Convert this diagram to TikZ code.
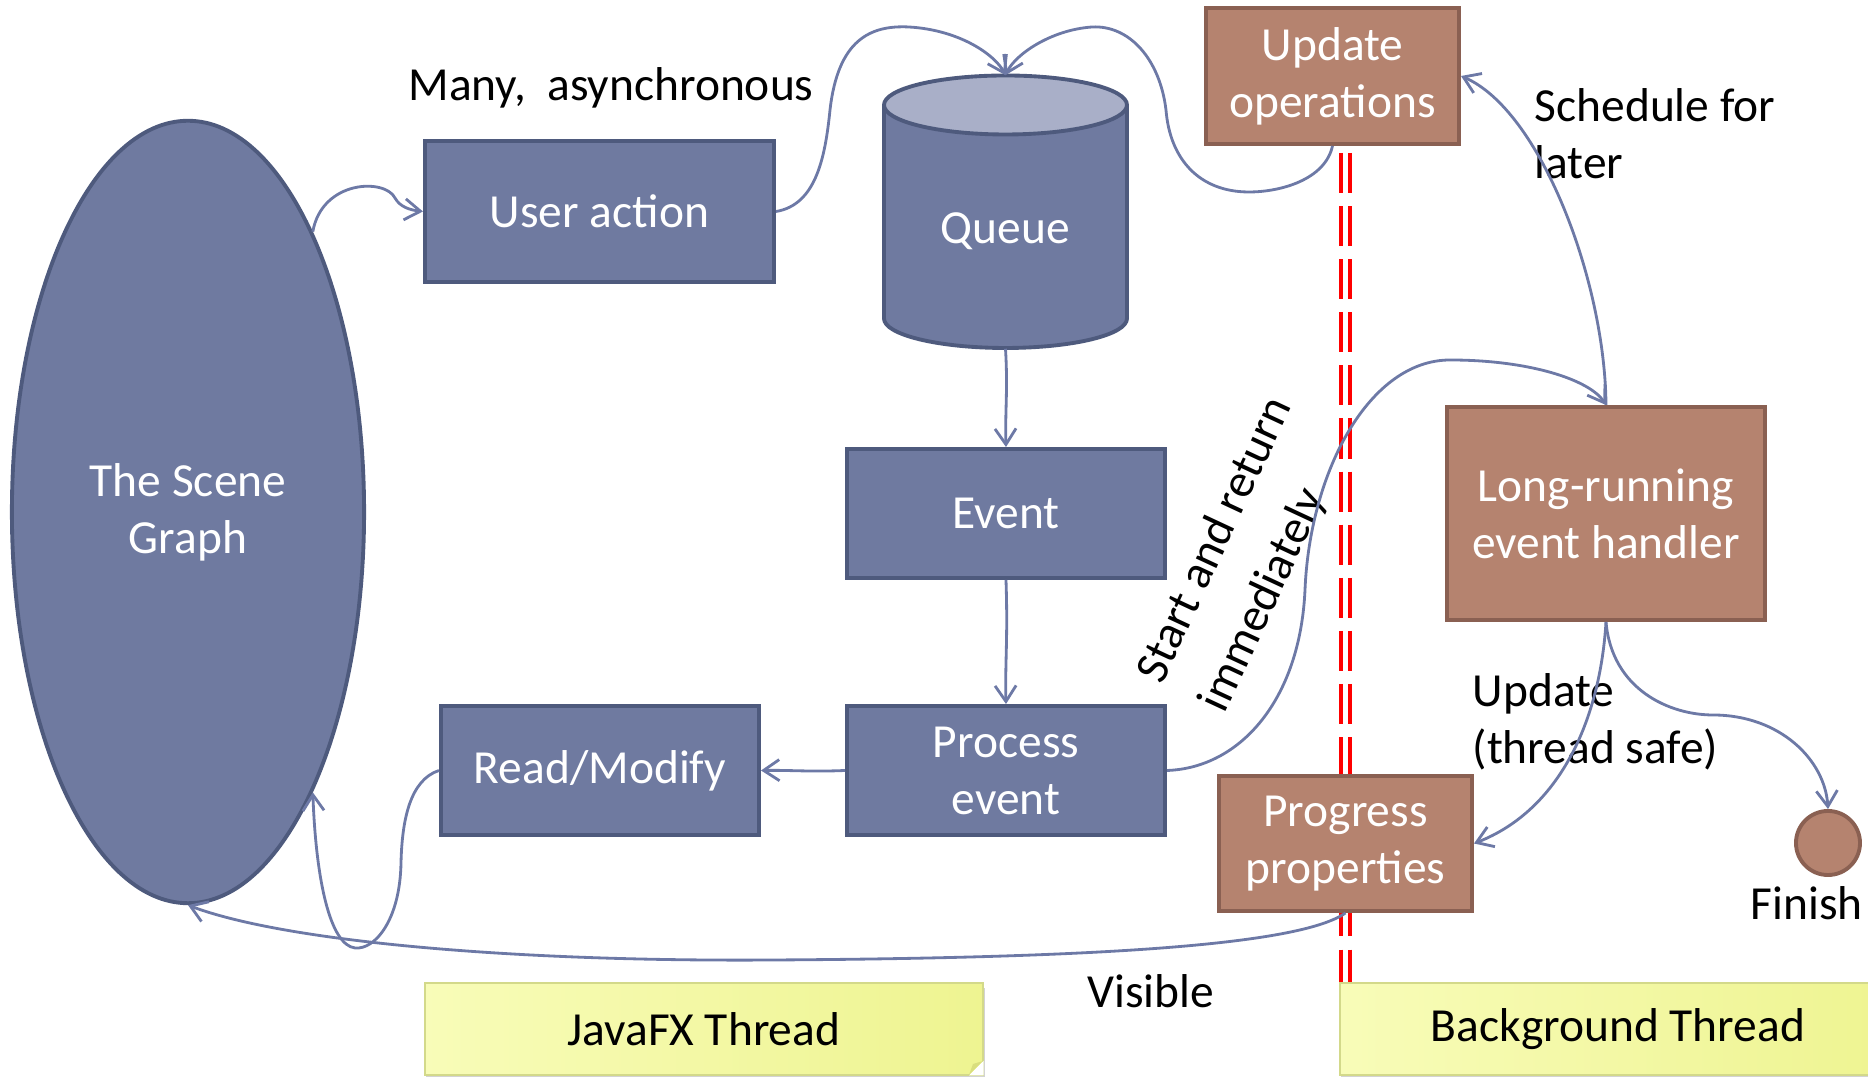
\documentclass[tikz,border=0pt]{standalone}
\usepackage{fontspec}
\setmainfont{Carlito}
\usetikzlibrary{arrows.meta,shapes.geometric,shadows}

\definecolor{boxblue}{HTML}{6F7AA0}
\definecolor{boxblueline}{HTML}{4E5A7D}
\definecolor{cyltop}{HTML}{A9AFC8}
\definecolor{boxbrown}{HTML}{B5836F}
\definecolor{boxbrownline}{HTML}{8A6052}
\definecolor{connc}{HTML}{6D79A6}
\definecolor{noteA}{HTML}{F8FCB8}
\definecolor{noteB}{HTML}{EEF491}
\definecolor{noteline}{HTML}{D3D98A}
\definecolor{notefold}{HTML}{D9DE7E}

\begin{document}
\begin{tikzpicture}[x=0.01cm, y=-0.01cm,
  txt/.style={font=\fontsize{13.5}{16.2}\selectfont, align=center},
  bluebox/.style={txt, rectangle, fill=boxblue, draw=boxblueline, line width=1.1pt, text=white, inner sep=0pt},
  brownbox/.style={txt, rectangle, fill=boxbrown, draw=boxbrownline, line width=1.1pt, text=white, inner sep=0pt},
  lbl/.style={txt, text=black, inner sep=0pt},
  conn/.style={draw=connc, line width=0.8pt, -{Straight Barb[length=4.5pt,width=6pt]}},
  redline/.style={draw=red, line width=1.1pt, dash pattern=on 11.4pt off 3.7pt},
  note/.style={txt, rectangle, left color=noteA, right color=noteB, draw=noteline, line width=0.6pt, inner sep=0pt,
    drop shadow={shadow xshift=0.4pt, shadow yshift=-1.4pt, opacity=0.35}}
]
\useasboundingbox (0,0) rectangle (1868,1077);

% thread boundary
\draw[redline] (1341,153) -- (1341,983);
\draw[redline] (1350,153) -- (1350,983);

% the scene graph
\node[bluebox, ellipse, minimum width=3.52cm, minimum height=7.82cm] (sg) at (188,512) {The Scene\\Graph};

% event queue drawn as a cylinder
\fill[boxblue] (884,105) -- (884,318.5)
  .. controls (884,334.8) and (938.4,348) .. (1005.5,348)
  .. controls (1072.6,348) and (1127,334.8) .. (1127,318.5) -- (1127,105) -- cycle;
\draw[boxblueline, line width=1.1pt] (884,105) -- (884,318.5)
  .. controls (884,334.8) and (938.4,348) .. (1005.5,348)
  .. controls (1072.6,348) and (1127,334.8) .. (1127,318.5) -- (1127,105);
\draw[boxblueline, line width=1.1pt, fill=cyltop] (1005.5,105) ellipse [x radius=121.5, y radius=29.5];
\node[inner sep=0pt, minimum width=2.43cm, minimum height=2.72cm] (queue) at (1005.5,212) {};
\node[txt, text=white] (qlabel) at (1005.5,231) {Queue};

% JavaFX thread boxes
\node[bluebox, minimum width=3.49cm, minimum height=1.41cm] (ua) at (599.5,211.5) {User action};
\node[bluebox, minimum width=3.18cm, minimum height=1.29cm] (ev) at (1006,513.5) {Event};
\node[bluebox, minimum width=3.18cm, minimum height=1.29cm] (pe) at (1006,770.5) {Process\\event};
\node[bluebox, minimum width=3.18cm, minimum height=1.29cm] (rm) at (600,770.5) {Read/Modify};

% background thread boxes
\node[brownbox, minimum width=2.53cm, minimum height=1.36cm] (uo) at (1332.5,76) {Update\\operations};
\node[brownbox, minimum width=3.18cm, minimum height=2.13cm] (lr) at (1606,513.5) {Long-running\\event handler};
\node[brownbox, minimum width=2.53cm, minimum height=1.35cm] (pp) at (1345.5,843.5) {Progress\\properties};
\node[brownbox, circle, minimum size=0.64cm] (fin) at (1828,843) {};

% labels
\node[lbl] (many) at (611,88) {Many,\ \ asynchronous};
\node[lbl, anchor=west, align=left] (sched) at (1534,134) {Schedule for\\later};
\node[lbl, rotate=65, align=left, font=\fontsize{13.5}{19.6}\selectfont] (start) at (1247,555) {Start and return\\immediately};
\node[lbl, anchor=west, align=left] (upd) at (1472,722) {Update\\(thread safe)};
\node[lbl] (finish) at (1807,903) {Finish};
\node[lbl] (visible) at (1151,991) {Visible};

% thread notes
\node[note, minimum width=5.58cm, minimum height=0.92cm] (jfx) at (704,1029) {JavaFX Thread};
\fill[white] (969,1075.5) -- (983.5,1075.5) -- (983.5,1061) -- cycle;
\fill[notefold] (969,1075) -- (983,1061) -- (973,1064) -- cycle;
\node[note, minimum width=5.56cm, minimum height=0.92cm] (bg) at (1618,1029) {Background Thread};

% connectors
\draw[conn] (sg.66) .. controls (322,180) and (385,178) .. (395,198)
  .. controls (400,207) and (410,210) .. (ua.west);
\draw[conn] (ua.east) .. controls (815,205) and (825,160) .. (830,110)
  .. controls (838,40) and (870,25) .. (909,27)
  .. controls (960,30) and (995,55) .. (queue.north);
\draw[conn] (uo.south) .. controls (1325,180) and (1280,192) .. (1249,192)
  .. controls (1200,192) and (1170,160) .. (1166,110)
  .. controls (1160,60) and (1130,25) .. (1092,27)
  .. controls (1050,30) and (1015,55) .. (queue.north);
\draw[conn] (queue.south) .. controls (1008,390) and (1005,410) .. (ev.north);
\draw[conn] (ev.south) .. controls (1008,640) and (1005,660) .. (pe.north);
\draw[conn] (pe.west) .. controls (810,772) and (790,770) .. (rm.east);
\draw[conn] (rm.west) .. controls (410,780) and (402,820) .. (401,863)
  .. controls (400,920) and (375,950) .. (355,948)
  .. controls (330,945) and (316,880) .. (sg.-66);
\draw[conn] (pp.south) .. controls (1300,945) and (1100,958) .. (774,960)
  .. controls (500,962) and (280,940) .. (sg.south);
\draw[conn] (pe.east) .. controls (1240,768) and (1300,700) .. (1305,590)
  .. controls (1310,470) and (1370,360) .. (1450,360)
  .. controls (1530,360) and (1590,380) .. (lr.north);
\draw[conn] (lr.north) .. controls (1605,280) and (1540,110) .. (uo.east);
\draw[conn] (lr.south) .. controls (1600,720) and (1560,810) .. (pp.east);
\draw[conn] (lr.south) .. controls (1612,690) and (1670,715) .. (1713,715)
  .. controls (1780,715) and (1825,760) .. (fin.north);
\end{tikzpicture}
\end{document}
